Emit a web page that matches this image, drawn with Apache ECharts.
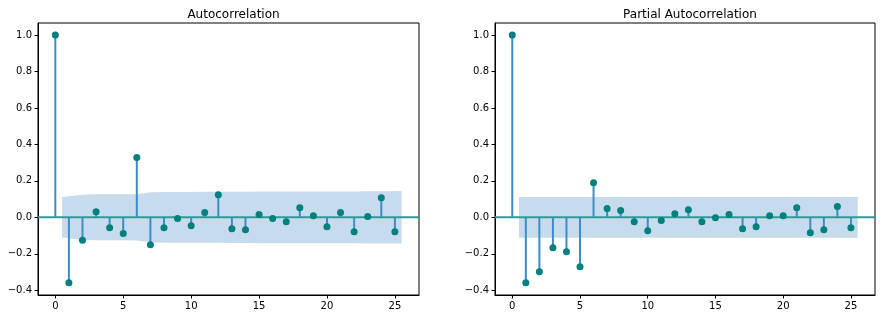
<!DOCTYPE html>
<html>
<head>
<meta charset="utf-8">
<script src="https://cdn.jsdelivr.net/npm/echarts@6/dist/echarts.min.js"></script>
<style>html,body{margin:0;padding:0;background:#fff}#c{width:882px;height:319px}</style>
</head>
<body>
<div id="c"></div>
<script>
var lags = [0,1,2,3,4,5,6,7,8,9,10,11,12,13,14,15,16,17,18,19,20,21,22,23,24,25];
var acfValues = [1.0,-0.359,-0.126,0.031,-0.057,-0.088,0.328,-0.150,-0.057,-0.007,-0.046,0.026,0.124,-0.062,-0.068,0.015,-0.007,-0.024,0.053,0.009,-0.051,0.026,-0.079,0.004,0.108,-0.079];
var pacfValues = [1.0,-0.359,-0.298,-0.167,-0.189,-0.271,0.190,0.048,0.037,-0.024,-0.073,-0.018,0.020,0.042,-0.024,-0.002,0.015,-0.062,-0.051,0.009,0.009,0.053,-0.084,-0.068,0.059,-0.057];
// confidence half-widths for lags 1..25
var acfConf = [0.111,0.124,0.126,0.126,0.126,0.127,0.137,0.139,0.139,0.139,0.140,0.140,0.141,0.141,0.142,0.142,0.142,0.142,0.142,0.142,0.142,0.142,0.143,0.143,0.144];
var pacfConf = [0.112,0.112,0.112,0.112,0.112,0.112,0.112,0.112,0.112,0.112,0.112,0.112,0.112,0.112,0.112,0.112,0.112,0.112,0.112,0.112,0.112,0.112,0.112,0.112,0.112];
var titles = ['Autocorrelation','Partial Autocorrelation'];
var xTicks = [0,5,10,15,20,25];
var yTicks = [-0.4,-0.2,0.0,0.2,0.4,0.6,0.8,1.0];

var FONT = 'DejaVu Sans';
var STEM = '#3c8dc5', MARK = '#00807f', ZERO = '#2f9a9a', BAND = '#c6dcec';

function bandX() {
  var xs = lags.slice(1);
  xs[0] = xs[0] - 0.5;
  xs[xs.length-1] = xs[xs.length-1] + 0.5;
  return xs;
}
var grids = [
  {left:38, top:23, width:381, height:272, show:true, borderColor:'#000', borderWidth:1, backgroundColor:'transparent'},
  {left:495, top:23, width:380, height:272, show:true, borderColor:'#000', borderWidth:1, backgroundColor:'transparent'}
];
var xAxes = [], yAxes = [], series = [], tl = [];
[acfValues, pacfValues].forEach(function(vals, i){
  var conf = i === 0 ? acfConf : pacfConf;
  xAxes.push({type:'value', gridIndex:i, min:-1.275, max:26.775,
    axisLine:{show:true, onZero:false, lineStyle:{color:'#000', width:1}},
    axisTick:{show:true, length:3.5, lineStyle:{color:'#000'}, customValues:xTicks},
    axisLabel:{customValues:xTicks, color:'#000', fontFamily:FONT, fontSize:10, margin:6},
    splitLine:{show:false}});
  yAxes.push({type:'value', gridIndex:i, min:-0.426, max:1.066,
    axisLine:{show:true, onZero:false, lineStyle:{color:'#000', width:1}},
    axisTick:{show:true, length:3.5, lineStyle:{color:'#000'}, customValues:yTicks},
    axisLabel:{customValues:yTicks, color:'#000', fontFamily:FONT, fontSize:10, margin:6,
      formatter:function(v){ return v.toFixed(1).replace('-', '\u2212'); }},
    splitLine:{show:false}});
  var bx = bandX();
  series.push({type:'custom', xAxisIndex:i, yAxisIndex:i, silent:true, z:1,
    data:[[0,0]],
    renderItem:function(params, api){
      var upper = [], lower = [];
      for (var k=0;k<bx.length;k++){ upper.push(api.coord([bx[k], conf[k]])); }
      for (var k=bx.length-1;k>=0;k--){ lower.push(api.coord([bx[k], -conf[k]])); }
      return {type:'polygon', shape:{points:upper.concat(lower)}, style:{fill:BAND}};
    }});
  series.push({type:'custom', xAxisIndex:i, yAxisIndex:i, silent:true, z:2,
    data:lags.map(function(l, k){ return [l, vals[k]]; }),
    renderItem:function(params, api){
      var p0 = api.coord([api.value(0), 0]);
      var p1 = api.coord([api.value(0), api.value(1)]);
      return {type:'line', shape:{x1:p0[0], y1:p0[1], x2:p1[0], y2:p1[1]}, style:{stroke:STEM, lineWidth:2}};
    }});
  series.push({type:'line', xAxisIndex:i, yAxisIndex:i, silent:true, z:3,
    data:[[-1.275,0],[26.775,0]], symbol:'none', lineStyle:{color:ZERO, width:2}});
  series.push({type:'scatter', xAxisIndex:i, yAxisIndex:i, silent:true, z:4,
    data:lags.map(function(l, k){ return [l, vals[k]]; }),
    symbol:'circle', symbolSize:7, itemStyle:{color:MARK, opacity:1}});
  var g = grids[i];
  tl.push({text:titles[i], left:g.left + g.width/2, top:4, textAlign:'center',
    textStyle:{fontFamily:FONT, fontSize:12, fontWeight:'normal', color:'#000'}});
});
var chart = echarts.init(document.getElementById('c'), null, {renderer:'canvas'});
chart.setOption({animation:false, title:tl, grid:grids, xAxis:xAxes, yAxis:yAxes, series:series});
</script>
</body>
</html>
